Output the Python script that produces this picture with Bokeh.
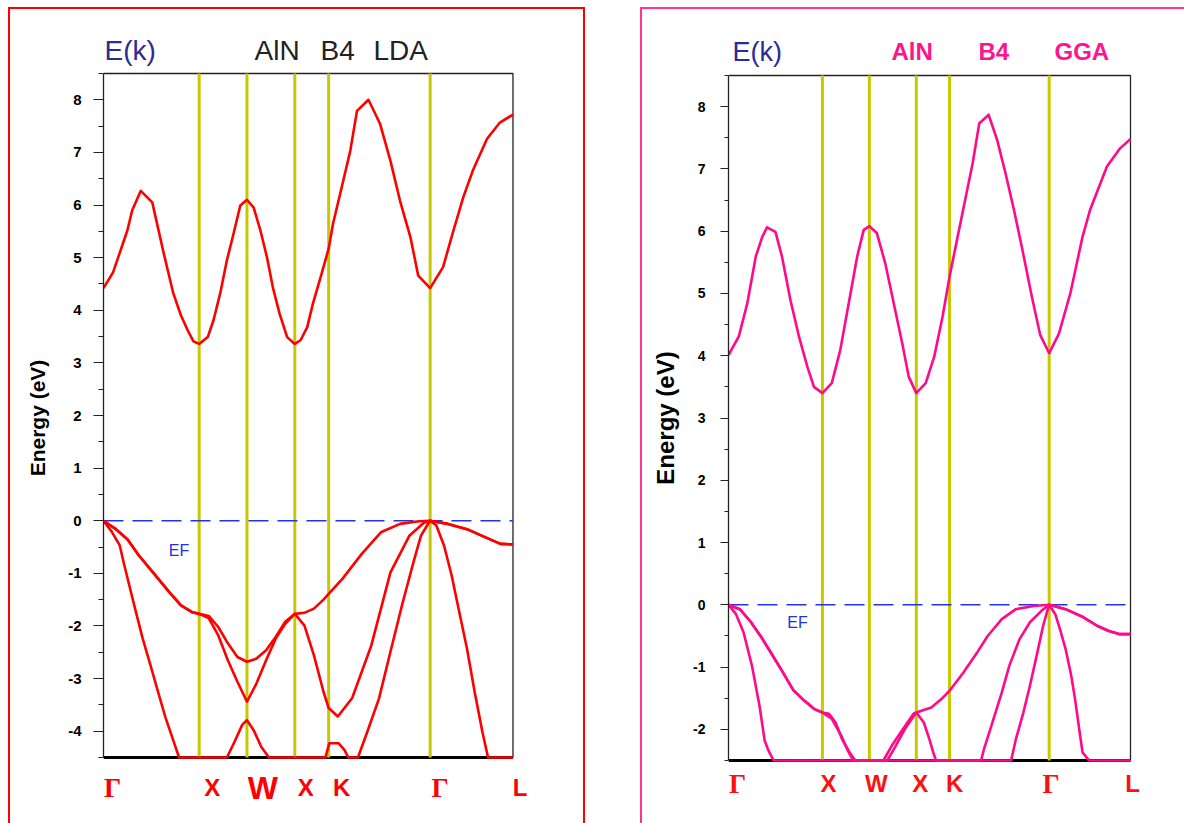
from bokeh.plotting import figure
from bokeh.models import Range1d, FixedTicker, Label
from bokeh.layouts import row, column
from bokeh.embed import file_html
from bokeh.resources import INLINE

# ---------------- data ----------------
k_ticks = [0.0, 1.0, 1.5, 2.0, 2.354, 3.415, 4.281]
k_labels = ["Γ", "X", "W", "X", "K", "Γ", "L"]

lda_yticks = [-4, -3, -2, -1, 0, 1, 2, 3, 4, 5, 6, 7, 8]
gga_yticks = [-2, -1, 0, 1, 2, 3, 4, 5, 6, 7, 8]
lda_emin, gga_emin, emax = -4.5, -2.5, 8.5

# LDA (left panel)
lda_cb_k = [0.00, 0.10, 0.25, 0.30, 0.39, 0.51, 0.63, 0.73, 0.81, 0.88, 0.94, 1.00,
            1.09, 1.15, 1.22, 1.29, 1.36, 1.43, 1.50, 1.57, 1.64, 1.71, 1.77, 1.84,
            1.92, 2.00, 2.06, 2.13, 2.19, 2.27, 2.354, 2.40, 2.47, 2.58, 2.65, 2.77,
            2.89, 3.00, 3.10, 3.21, 3.29, 3.415, 3.55, 3.65, 3.76, 3.86, 4.01, 4.14, 4.281]
lda_cb_e = [4.42, 4.72, 5.52, 5.90, 6.27, 6.05, 5.08, 4.32, 3.90, 3.62, 3.41, 3.36,
            3.49, 3.81, 4.32, 4.95, 5.46, 5.99, 6.10, 5.95, 5.52, 5.00, 4.44, 3.94,
            3.49, 3.36, 3.43, 3.68, 4.13, 4.63, 5.17, 5.65, 6.18, 7.03, 7.79, 8.00,
            7.55, 6.84, 6.08, 5.38, 4.66, 4.42, 4.82, 5.46, 6.14, 6.65, 7.26, 7.56, 7.72]

lda_v1_k = [0.00, 0.13, 0.25, 0.37, 0.53, 0.69, 0.81, 0.93, 1.00, 1.10, 1.20, 1.30,
            1.40, 1.50, 1.60, 1.70, 1.80, 1.90, 2.00, 2.10, 2.20, 2.30, 2.354, 2.50,
            2.70, 2.90, 3.10, 3.30, 3.415, 3.60, 3.80, 4.00, 4.15, 4.281]
lda_v1_e = [0.00, -0.16, -0.35, -0.66, -1.01, -1.36, -1.61, -1.74, -1.77, -1.81, -2.02, -2.33,
            -2.59, -2.68, -2.62, -2.46, -2.21, -1.92, -1.77, -1.75, -1.67, -1.50, -1.39, -1.10,
            -0.63, -0.22, -0.06, -0.01, 0.00, -0.06, -0.16, -0.32, -0.44, -0.45]

lda_v2_k = [0.00, 0.13, 0.25, 0.37, 0.53, 0.69, 0.81, 0.93, 1.00, 1.10, 1.20, 1.30,
            1.40, 1.50, 1.60, 1.70, 1.80, 1.90, 2.00, 2.10, 2.20, 2.30, 2.354, 2.45,
            2.60, 2.80, 3.00, 3.20, 3.35, 3.415, 3.60, 3.80, 4.00, 4.15, 4.281]
lda_v2_e = [0.00, -0.16, -0.35, -0.66, -1.01, -1.36, -1.61, -1.74, -1.77, -1.85, -2.18, -2.65,
            -3.06, -3.44, -3.09, -2.65, -2.24, -1.96, -1.77, -1.99, -2.56, -3.25, -3.56, -3.72,
            -3.37, -2.37, -0.98, -0.28, -0.04, 0.00, -0.06, -0.16, -0.32, -0.44, -0.45]

lda_v3_k = [0.00, 0.09, 0.17, 0.21, 0.27, 0.33, 0.41, 0.49, 0.57, 0.65, 0.71, 0.79,
            1.29, 1.37, 1.45, 1.50, 1.57, 1.65, 1.73, 2.32, 2.36, 2.46, 2.52, 2.56,
            2.66, 2.76, 2.88, 3.00, 3.12, 3.24, 3.32, 3.38, 3.415, 3.48, 3.56, 3.64,
            3.72, 3.80, 3.88, 3.96, 4.02, 4.281]
lda_v3_e = [0.00, -0.22, -0.47, -0.79, -1.23, -1.67, -2.24, -2.74, -3.25, -3.75, -4.07, -4.50,
            -4.50, -4.20, -3.88, -3.79, -3.98, -4.30, -4.50, -4.50, -4.23, -4.23, -4.36, -4.50,
            -4.50, -4.00, -3.38, -2.49, -1.61, -0.79, -0.28, -0.10, 0.00, -0.09, -0.47, -1.04,
            -1.74, -2.43, -3.25, -4.00, -4.50, -4.50]

# GGA (right panel)
gga_cb_k = [0.00, 0.11, 0.20, 0.29, 0.36, 0.41, 0.50, 0.57, 0.66, 0.75, 0.84, 0.91, 1.00,
            1.10, 1.19, 1.28, 1.37, 1.44, 1.50, 1.58, 1.67, 1.76, 1.85, 1.92, 2.00,
            2.10, 2.19, 2.28, 2.354, 2.44, 2.52, 2.60, 2.67, 2.77, 2.86, 2.95, 3.04,
            3.13, 3.23, 3.32, 3.415, 3.52, 3.64, 3.77, 3.85, 4.03, 4.17, 4.281]
gga_cb_e = [4.01, 4.31, 4.84, 5.59, 5.91, 6.06, 5.99, 5.59, 4.89, 4.31, 3.82, 3.50, 3.40,
            3.56, 4.09, 4.84, 5.59, 6.02, 6.08, 5.97, 5.48, 4.84, 4.20, 3.66, 3.40,
            3.56, 3.98, 4.63, 5.27, 5.91, 6.50, 7.09, 7.73, 7.87, 7.47, 6.93, 6.34,
            5.70, 4.95, 4.33, 4.04, 4.36, 5.00, 5.91, 6.34, 7.04, 7.33, 7.48]

gga_v1_k = [0.00, 0.12, 0.23, 0.35, 0.46, 0.57, 0.69, 0.80, 0.91, 1.00, 1.07, 1.14,
            1.21, 1.29, 1.35, 1.65, 1.74, 1.86, 1.97, 2.00, 2.16, 2.27, 2.354, 2.50,
            2.65, 2.76, 2.91, 3.06, 3.25, 3.415, 3.59, 3.78, 3.93, 4.05, 4.16, 4.281]
gga_v1_e = [0.00, -0.07, -0.26, -0.52, -0.79, -1.06, -1.37, -1.53, -1.67, -1.73, -1.75, -1.89,
            -2.16, -2.37, -2.50, -2.50, -2.26, -1.99, -1.75, -1.73, -1.65, -1.51, -1.38, -1.09,
            -0.76, -0.50, -0.23, -0.07, -0.02, 0.00, -0.07, -0.20, -0.34, -0.42, -0.47, -0.47]

gga_v2_k = [0.00, 0.12, 0.23, 0.35, 0.46, 0.57, 0.69, 0.80, 0.91, 1.00, 1.10, 1.20,
            1.27, 1.33, 1.69, 1.76, 1.88, 1.99, 2.00, 2.08, 2.14, 2.18, 2.21, 2.69,
            2.72, 2.80, 2.91, 2.99, 3.10, 3.21, 3.33, 3.415, 3.59, 3.78, 3.93, 4.05, 4.16, 4.281]
gga_v2_e = [0.00, -0.07, -0.26, -0.52, -0.79, -1.06, -1.37, -1.53, -1.67, -1.73, -1.83, -2.10,
            -2.34, -2.50, -2.50, -2.32, -1.99, -1.75, -1.73, -1.89, -2.16, -2.37, -2.50, -2.50,
            -2.32, -1.94, -1.41, -0.98, -0.55, -0.28, -0.10, 0.00, -0.07, -0.20, -0.34, -0.42, -0.47, -0.47]

gga_v3_k = [0.00, 0.08, 0.16, 0.25, 0.33, 0.385, 0.42, 0.48, 3.01, 3.06, 3.14, 3.21,
            3.29, 3.35, 3.40, 3.415, 3.48, 3.53, 3.59, 3.65, 3.69, 3.74, 3.77, 3.84, 4.281]
gga_v3_e = [0.00, -0.15, -0.44, -0.98, -1.62, -2.18, -2.32, -2.50, -2.50, -2.16, -1.73, -1.30,
            -0.76, -0.34, -0.07, 0.00, -0.15, -0.39, -0.71, -1.14, -1.51, -2.05, -2.37, -2.50, -2.50]

# ---------------- drawing ----------------
SANS = "Liberation Sans"
SERIF = "Liberation Serif"
YELLOW = "#c8c800"
FRAME = "#222222"


def make_panel(yticks, ymin, y_lo, y_hi, x_hi, frame_w, frame_h, b_left, b_right, b_top, b_bottom,
               tick_font, label_font, tick_out, minor_out, tick_standoff, label_standoff):
    p = figure(frame_width=frame_w, frame_height=frame_h,
               min_border_left=b_left, min_border_right=b_right,
               min_border_top=b_top, min_border_bottom=b_bottom,
               x_range=Range1d(k_ticks[0], x_hi),
               y_range=Range1d(y_lo, y_hi),
               output_backend="svg", toolbar_location=None,
               background_fill_color="white", border_fill_color="white")
    p.xgrid.visible = False
    p.ygrid.visible = False
    p.outline_line_color = None
    p.xaxis.visible = False

    ya = p.yaxis[0]
    ya.bounds = (ymin, emax)
    ya.ticker = FixedTicker(ticks=yticks,
                            minor_ticks=[t + 0.5 for t in yticks] + [yticks[0] - 0.5])
    ya.major_label_overrides = {t: str(t) for t in yticks}
    ya.major_label_text_font = SANS
    ya.major_label_text_font_style = "bold"
    ya.major_label_text_font_size = tick_font
    ya.major_label_text_color = "black"
    ya.major_tick_out = tick_out
    ya.major_tick_in = 0
    ya.minor_tick_out = minor_out
    ya.minor_tick_in = 0
    ya.major_tick_line_color = FRAME
    ya.minor_tick_line_color = FRAME
    ya.axis_line_color = FRAME
    ya.axis_line_width = 1.3
    ya.major_label_standoff = tick_standoff
    ya.axis_label = "Energy (eV)"
    ya.axis_label_text_font = SANS
    ya.axis_label_text_font_style = "bold"
    ya.axis_label_text_font_size = label_font
    ya.axis_label_text_color = "black"
    ya.axis_label_standoff = label_standoff
    return p


def draw_common(p, ymin, bands, band_color, ef_label_pos):
    k0, k1 = k_ticks[0], k_ticks[-1]
    inner = k_ticks[1:-1]
    # plot box (top, right, bottom)
    p.line(x=[k0, k1, k1], y=[emax, emax, ymin], line_color=FRAME, line_width=1.3)
    p.line(x=[k0, k1], y=[ymin, ymin], line_color="black", line_width=3.2)
    # high-symmetry verticals
    p.segment(x0=inner, y0=[ymin] * len(inner), x1=inner, y1=[emax] * len(inner),
              line_color=YELLOW, line_width=3)
    # Fermi level
    p.line(x=[k0, k1], y=[0, 0], line_color="#2233ee", line_width=1.5, line_dash="20 9")
    for bk, be in bands:
        p.line(x=bk, y=be, line_color=band_color, line_width=2.6, line_join="round")
    p.add_layout(Label(x=ef_label_pos[0], y=ef_label_pos[1], text="EF",
                       text_font=SANS, text_font_size="16px", text_color="#1f2ff0",
                       text_align="center", text_baseline="middle"))


# ----- left panel (LDA) -----
p1 = make_panel(lda_yticks, lda_emin, -5.602, 9.507, 4.621, 442, 795, 93, 38, 11, 8,
                "15px", "21px", 10, 5, 12, 16)
draw_common(p1, lda_emin,
            [(lda_cb_k, lda_cb_e), (lda_v3_k, lda_v3_e), (lda_v2_k, lda_v2_e), (lda_v1_k, lda_v1_e)],
            "#ff0000", (0.79, -0.57))

p1.add_layout(Label(x=0.01, y=8.937, text="E(k)", text_font=SANS, text_font_size="28px",
                    text_color="#2b2b95", text_align="left", text_baseline="middle"))
for xk, txt in [(1.579, "AlN"), (2.269, "B4"), (2.823, "LDA")]:
    p1.add_layout(Label(x=xk, y=8.937, text=txt, text_font=SANS, text_font_size="28px",
                        text_color="#222222", text_align="left", text_baseline="middle"))

left_off = [9, 13, 16, 11, 13, 10, 7]
for kk, lab, off in zip(k_ticks, k_labels, left_off):
    font = SERIF if lab == "Γ" else SANS
    size = "32px" if lab == "W" else ("27px" if lab == "Γ" else "24px")
    p1.add_layout(Label(x=kk, y=-5.07, x_offset=off, text=lab, text_font=font,
                        text_font_size=size, text_font_style="bold", text_color="#ff0000",
                        text_align="center", text_baseline="middle"))

# ----- right panel (GGA) -----
p2 = make_panel(gga_yticks, gga_emin, -3.383, 9.383, 4.6005, 432, 795, 86, 24, 11, 8,
                "14px", "24px", 8, 4, 15, 11)
PINK = "#ff0a8a"
draw_common(p2, gga_emin,
            [(gga_cb_k, gga_cb_e), (gga_v3_k, gga_v3_e), (gga_v2_k, gga_v2_e), (gga_v1_k, gga_v1_e)],
            PINK, (0.735, -0.28))

p2.add_layout(Label(x=0.043, y=8.885, text="E(k)", text_font=SANS, text_font_size="27px",
                    text_color="#2b2b95", text_align="left", text_baseline="middle"))
for xk, txt in [(1.736, "AlN"), (2.662, "B4"), (3.472, "GGA")]:
    p2.add_layout(Label(x=xk, y=8.885, text=txt, text_font=SANS, text_font_size="24px",
                        text_font_style="bold", text_color="#ff148c",
                        text_align="left", text_baseline="middle"))

right_off = [9, 6, 7, 4, 5, 2, 2]
for kk, lab, off in zip(k_ticks, k_labels, right_off):
    font = SERIF if lab == "Γ" else SANS
    size = "27px" if lab == "Γ" else "24px"
    p2.add_layout(Label(x=kk, y=-2.87, x_offset=off, text=lab, text_font=font,
                        text_font_size=size, text_font_style="bold", text_color="#ff1010",
                        text_align="center", text_baseline="middle"))

box1 = column(p1, margin=(7, 0, 0, 8),
              styles={"border-top": "2px solid #ff0000", "border-left": "2px solid #ff0000",
                      "border-right": "2px solid #ff0000"})
box2 = column(p2, margin=(7, 0, 0, 55),
              styles={"border-top": "2px solid #ff3399", "border-left": "2px solid #ff3399"})

layout = row(box1, box2, spacing=0)
open("out.html", "w").write(file_html(layout, INLINE))
